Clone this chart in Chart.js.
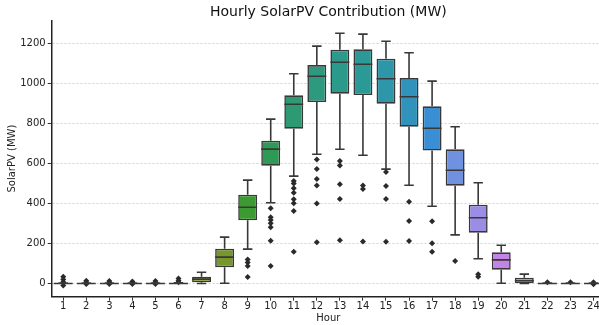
<!DOCTYPE html>
<html>
<head>
<meta charset="utf-8">
<script src="https://cdn.jsdelivr.net/npm/chart.js@4.4.1/dist/chart.umd.min.js"></script>
<style>
  html, body { margin: 0; padding: 0; background: #fff; overflow: hidden; }
</style>
</head>
<body>
<canvas id="chart" width="609" height="325"></canvas>
<script>
// box statistics per hour (MW)
const hours = ["1","2","3","4","5","6","7","8","9","10","11","12","13","14","15","16","17","18","19","20","21","22","23","24"];
const whiskerLow = [0, 0, 0, 0, 0, 0, 0, 1, 172, 404, 537, 646, 671, 641, 572, 491, 386, 243, 124, 1, 0, 0, 0, 0];
const q1 =         [0, 0, 0, 0, 0, 0, 6, 81, 316, 589, 774, 907, 949, 942, 899, 784, 665, 489, 254, 69, 1, 0, 0, 0];
const median =     [0, 0, 0, 0, 0, 0, 22, 132, 381, 672, 896, 1036, 1106, 1096, 1024, 934, 776, 566, 329, 118, 14, 0, 0, 0];
const q3 =         [1, 1, 1, 1, 1, 1, 34, 174, 444, 714, 941, 1092, 1169, 1171, 1124, 1027, 886, 671, 394, 156, 29, 1, 1, 1];
const whiskerHigh = [2, 2, 2, 2, 2, 3, 56, 232, 517, 822, 1049, 1187, 1251, 1247, 1211, 1154, 1012, 784, 504, 191, 47, 2, 2, 2];
const outliers = [
  [34, 20, 8, -10], [14, 6, -3], [12, 5, -3], [10, 4, -3], [12, 5, -3], [25, 14, 6],
  [], [], [120, 105, 88, 32], [376, 331, 318, 301, 281, 214, 87],
  [512, 500, 476, 454, 421, 401, 362, 159], [620, 572, 522, 490, 400, 206],
  [612, 590, 496, 422, 216], [490, 472, 210], [558, 487, 422, 209], [409, 312, 212],
  [311, 201, 159], [113], [46, 34], [], [], [6], [6], [6, -4]
];
const boxColors = ["#dc6a7e", "#d4734f", "#c67d36", "#b48632", "#a28d31", "#929330",
  "#869a2c", "#77962b", "#3d9a32", "#2e9a56", "#2e9a72", "#2d9a80", "#2c9a8b", "#2b9a96",
  "#2d96a8", "#3193bb", "#3a8fd4", "#7090e0", "#9b8ce6", "#c285e6", "#d472c4",
  "#d8689e", "#da6791", "#dc6686"];
const yTicks = [0, 200, 400, 600, 800, 1000, 1200];

const lineColor = "#383838";

const outlierPoints = [];
outliers.forEach((vals, i) => {
  vals.forEach(v => outlierPoints.push({ x: hours[i], y: v }));
});

// whiskers, caps and medians drawn on the library's scales
const boxExtras = {
  id: "boxExtras",
  afterDatasetsDraw(chart) {
    const ctx = chart.ctx;
    const xs = chart.scales.x, ys = chart.scales.y;
    const bars = chart.getDatasetMeta(0).data;
    ctx.save();
    ctx.strokeStyle = lineColor;
    ctx.lineWidth = 1.6;
    hours.forEach((h, i) => {
      const x = xs.getPixelForValue(i);
      const w = bars[i].width;
      const cap = w / 4;
      ctx.beginPath();
      ctx.moveTo(x, ys.getPixelForValue(q1[i]));
      ctx.lineTo(x, ys.getPixelForValue(whiskerLow[i]));
      ctx.moveTo(x, ys.getPixelForValue(q3[i]));
      ctx.lineTo(x, ys.getPixelForValue(whiskerHigh[i]));
      ctx.moveTo(x - cap, ys.getPixelForValue(whiskerLow[i]));
      ctx.lineTo(x + cap, ys.getPixelForValue(whiskerLow[i]));
      ctx.moveTo(x - cap, ys.getPixelForValue(whiskerHigh[i]));
      ctx.lineTo(x + cap, ys.getPixelForValue(whiskerHigh[i]));
      ctx.moveTo(x - w / 2, ys.getPixelForValue(median[i]));
      ctx.lineTo(x + w / 2, ys.getPixelForValue(median[i]));
      ctx.stroke();
    });
    // title centred over the plot area
    const area = chart.chartArea;
    ctx.fillStyle = "#111";
    ctx.font = "14px 'DejaVu Sans'";
    ctx.textAlign = "center";
    ctx.textBaseline = "middle";
    ctx.fillText("Hourly SolarPV Contribution (MW)", (area.left + area.right) / 2, 12);
    ctx.restore();
  }
};

new Chart(document.getElementById("chart"), {
  data: {
    labels: hours,
    datasets: [{
      type: "bar",
      data: hours.map((h, i) => [q1[i], q3[i]]),
      backgroundColor: boxColors,
      borderColor: lineColor,
      borderWidth: 1.6,
      borderSkipped: false,
      categoryPercentage: 0.82,
      barPercentage: 1,
      order: 2
    }, {
      type: "line",
      data: outlierPoints,
      showLine: false,
      pointStyle: "rectRot",
      pointRadius: 3,
      pointBackgroundColor: "#2a2a2a",
      pointBorderWidth: 0,
      order: 1
    }]
  },
  options: {
    responsive: false,
    animation: false,
    layout: { padding: { top: 20.5, right: 0, left: 0, bottom: 0 } },
    plugins: {
      legend: { display: false },
      tooltip: { enabled: false },
      title: { display: false }
    },
    scales: {
      x: {
        type: "category",
        offset: true,
        grid: { display: true, drawOnChartArea: false, offset: false, tickLength: 4, tickColor: "#333" },
        border: { display: true, color: "#222", width: 1.5 },
        ticks: { color: "#222", font: { family: "DejaVu Sans", size: 10 }, padding: 0, maxRotation: 0, autoSkip: false },
        title: { display: true, text: "Hour", color: "#222", font: { family: "DejaVu Sans", size: 10 }, padding: { top: 0, bottom: 1 } },
        afterFit: (s) => { s.height = 28.3; }
      },
      y: {
        min: -66,
        max: 1315,
        afterBuildTicks: (s) => { s.ticks = yTicks.map(v => ({ value: v })); },
        grid: { color: "#d0d0d0", tickLength: 4, tickColor: "#333", tickBorderDash: [] },
        border: { display: true, color: "#222", width: 1.5, dash: [2, 2] },
        ticks: { color: "#222", font: { family: "DejaVu Sans", size: 10 }, padding: 2, callback: (v) => String(v) },
        title: { display: true, text: "SolarPV (MW)", color: "#222", font: { family: "DejaVu Sans", size: 10 }, padding: { top: 6, bottom: 0 } },
        afterFit: (s) => { s.width = 51.7; }
      }
    }
  },
  plugins: [boxExtras]
});
</script>
</body>
</html>
